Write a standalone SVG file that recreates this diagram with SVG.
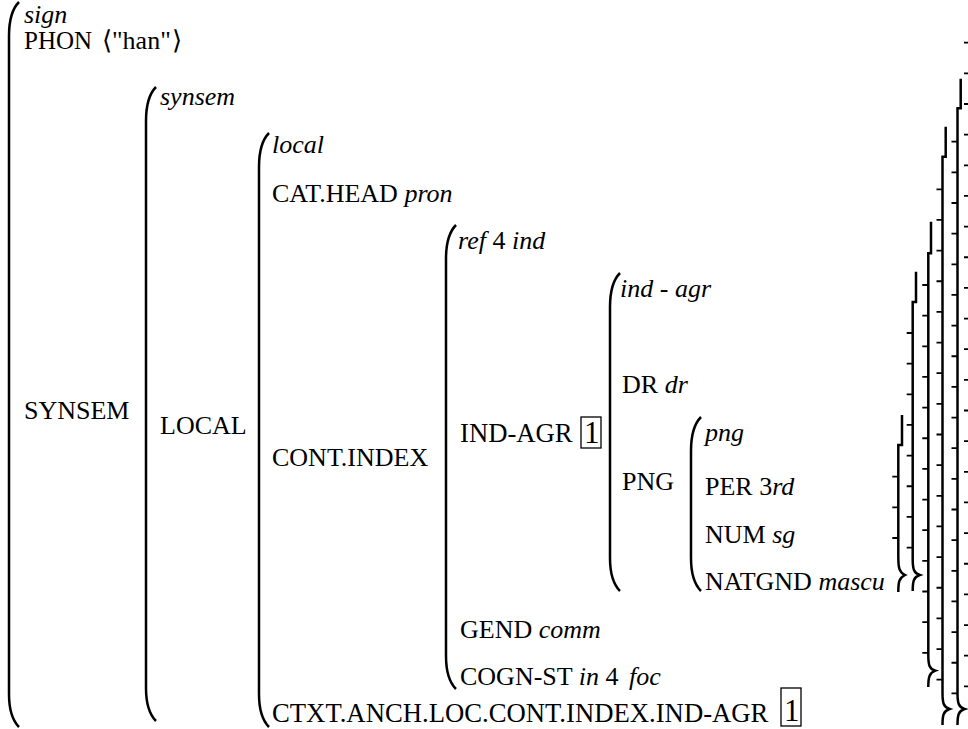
<svg xmlns="http://www.w3.org/2000/svg" width="968" height="729" viewBox="0 0 968 729">
<style>
.i{font-style:italic}
.big{font-size:31px}
.w{font-size:26.7px}
.br{fill:none;stroke:#000;stroke-width:2.5;stroke-linecap:butt}
.tk{fill:none;stroke:#000;stroke-width:6;stroke-dasharray:1.8 28.85}
.bx{fill:none;stroke:#000;stroke-width:1.3}
</style>
<rect width="968" height="729" fill="#fff"/>
<g id="connectors">
<path class="br" d="M19 2 C12 9 9 20 9 36 L9 694 C9 710 12 720 19 727"/>
<path class="br" d="M156 87 C149 94 146 105 146 121 L146 688 C146 704 149 714 156 721"/>
<path class="br" d="M269 133 C262 140 259 151 259 167 L259 694 C259 710 262 720 269 727"/>
<path class="br" d="M456 225 C449 232 446 243 446 259 L446 656 C446 672 449 682 456 689"/>
<path class="br" d="M620 273 C613 280 610 291 610 307 L610 558 C610 574 613 584 620 591"/>
<path class="br" d="M701 417 C694 424 691 435 691 451 L691 558 C691 574 694 584 701 591"/>
<line class="tk" x1="967" y1="41.8" x2="967" y2="688"/>
<path class="br" d="M960.7 78.7 V108.3 H957.5 V693 C957.5 703 958.5 707 964.5 709 C958.5 711 957.5 715 957.5 725"/>
<line class="tk" x1="954.5" y1="140.8" x2="954.5" y2="695"/>
<path class="br" d="M945.7 126.7 V156.7 H942.5 V693 C942.5 703 943.5 707 949.5 709 C943.5 711 942.5 715 942.5 725"/>
<line class="tk" x1="939.5" y1="188.4" x2="939.5" y2="681"/>
<path class="br" d="M931 221.7 V253.3 H928.3 V655 C928.3 665 929.3 669 935.3 670.7 C929.3 673 928.3 677 928.3 687"/>
<line class="tk" x1="925.3" y1="284.1" x2="925.3" y2="654"/>
<path class="br" d="M916 271.7 V302 H912.7 V559 C912.7 569 913.7 573 919.7 575 C913.7 577 912.7 581 912.7 591"/>
<line class="tk" x1="909.7" y1="332.1" x2="909.7" y2="550"/>
<path class="br" d="M902 415 V445 H898.3 V556 C898.3 568 899 572 905 575 C899 578 898.3 582 898.3 592"/>
<line class="tk" x1="895.3" y1="475.8" x2="895.3" y2="539"/>
</g>
<g font-family="Liberation Serif, Times New Roman, serif" font-size="26" fill="#000">
<g id="node-sign">
<text x="24" y="23" class="i">sign</text>
<text x="24" y="49" font-size="25">PHON</text>
<text x="102" y="49">⟨</text>
<text x="112" y="49">"han"</text>
<text x="172" y="49">⟩</text>
<text x="24" y="419">SYNSEM</text>
</g>
<g id="node-synsem">
<text x="160" y="105" class="i">synsem</text>
<text x="160" y="434">LOCAL</text>
</g>
<g id="node-local">
<text x="272" y="153" class="i">local</text>
<text x="272" y="202">CAT.HEAD <tspan class="i">pron</tspan></text>
<text x="272" y="466">CONT.INDEX</text>
<text x="272" y="722" class="w">CTXT.ANCH.LOC.CONT.INDEX.IND-AGR</text>
<rect class="bx" x="781" y="688" width="20" height="38"/>
<text x="784" y="721" class="big">1</text>
</g>
<g id="node-ref">
<text x="458" y="249"><tspan class="i">ref</tspan> 4 <tspan class="i">ind</tspan></text>
<text x="460" y="442" class="w">IND-AGR</text>
<rect class="bx" x="581" y="417" width="20" height="31"/>
<text x="584" y="443" class="big">1</text>
<text x="460" y="638">GEND <tspan class="i">comm</tspan></text>
<text x="460" y="685">COGN-ST <tspan class="i">in</tspan> 4 <tspan class="i" dx="4">foc</tspan></text>
</g>
<g id="node-ind-agr">
<text x="620" y="297"><tspan class="i">ind</tspan> - <tspan class="i">agr</tspan></text>
<text x="622" y="393">DR <tspan class="i">dr</tspan></text>
<text x="622" y="490">PNG</text>
</g>
<g id="node-png">
<text x="705" y="441" class="i">png</text>
<text x="705" y="495">PER 3<tspan class="i">rd</tspan></text>
<text x="705" y="543">NUM <tspan class="i">sg</tspan></text>
<text x="705" y="590">NATGND <tspan class="i">mascu</tspan></text>
</g>
</g>
</svg>
